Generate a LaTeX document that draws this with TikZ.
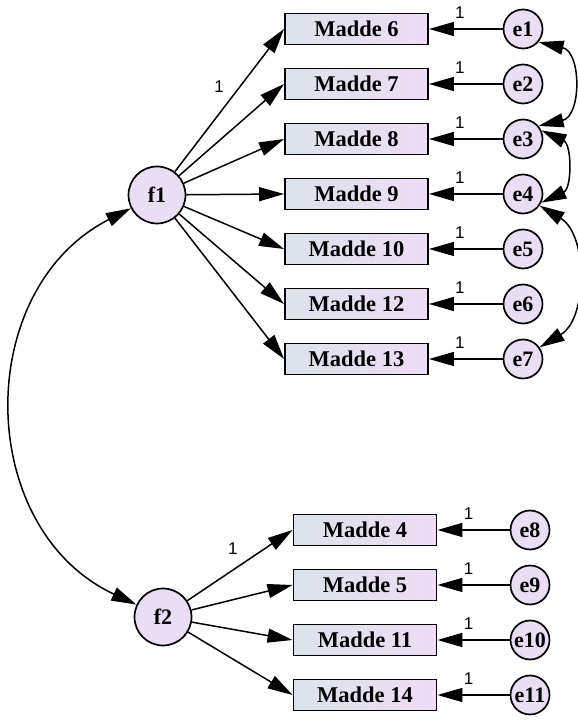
\documentclass[tikz,border=0pt]{standalone}
\usepackage{fontspec}
\setmainfont{Liberation Serif}
\newfontfamily\labfont{Liberation Sans}
\usetikzlibrary{arrows.meta}
\definecolor{boxleft}{RGB}{220,227,234}
\definecolor{boxright}{RGB}{238,221,245}
\definecolor{circfill}{RGB}{233,222,243}

\begin{document}
\begin{tikzpicture}[x=1pt, y=1pt, >={Triangle[length=25pt,width=14pt]}, line width=1.5pt,
  item/.style={draw, line width=1.9pt, rectangle, minimum width=143pt, minimum height=31pt, inner sep=0pt,
    left color=boxleft, right color=boxright, font=\fontsize{22.5}{24}\selectfont\bfseries},
  latent/.style={draw, circle, line width=1.7pt, minimum size=57pt, inner sep=0pt, fill=circfill,
    font=\fontsize{22}{24}\selectfont\bfseries},
  errv/.style={draw, circle, line width=1.7pt, minimum size=39pt, inner sep=0pt, fill=circfill,
    font=\fontsize{22}{24}\selectfont\bfseries},
  wlab/.style={font=\labfont\fontsize{17}{17}\selectfont, inner sep=1pt}]
\useasboundingbox (0,0) rectangle (578,720);
% factors
\node[latent] (f1) at (157,525) {f1};
\node[latent] (f2) at (163,103) {f2};
% items of f1
\node[item] (m6) at (356.5,691) {Madde 6};
\node[item] (m7) at (356.5,636) {Madde 7};
\node[item] (m8) at (356.5,581) {Madde 8};
\node[item] (m9) at (356.5,526) {Madde 9};
\node[item] (m10) at (356.5,471) {Madde 10};
\node[item] (m12) at (356.5,416) {Madde 12};
\node[item] (m13) at (356.5,361) {Madde 13};
% items of f2
\node[item] (m4) at (365,190) {Madde 4};
\node[item] (m5) at (365,135) {Madde 5};
\node[item] (m11) at (365,80) {Madde 11};
\node[item] (m14) at (365,25) {Madde 14};
% error terms
\node[errv] (e1) at (523,691) {e1};
\node[errv] (e2) at (523,636) {e2};
\node[errv] (e3) at (523,581) {e3};
\node[errv] (e4) at (523,526) {e4};
\node[errv] (e5) at (523,471) {e5};
\node[errv] (e6) at (523,416) {e6};
\node[errv] (e7) at (523,361) {e7};
\node[errv] (e8) at (530,190) {e8};
\node[errv] (e9) at (530,135) {e9};
\node[errv] (e10) at (530,80) {e10};
\node[errv] (e11) at (530,25) {e11};
% loadings f1
\draw[->] (f1) -- (m6.west) node[wlab, pos=0.51, above left=5pt] (w6) {1};
\draw[->] (f1) -- (m7.west);
\draw[->] (f1) -- (m8.west);
\draw[->] (f1) -- (m9.west);
\draw[->] (f1) -- (m10.west);
\draw[->] (f1) -- (m12.west);
\draw[->] (f1) -- (m13.west);
% loadings f2
\draw[->] (f2) -- (m4.west) node[wlab, pos=0.55, above left=6pt] (w4) {1};
\draw[->] (f2) -- (m5.west);
\draw[->] (f2) -- (m11.west);
\draw[->] (f2) -- (m14.west);
% error paths
\draw[->] (e1) -- (m6) node[wlab, pos=0.58, above=9pt] (u1) {1};
\draw[->] (e2) -- (m7) node[wlab, pos=0.58, above=9pt] (u2) {1};
\draw[->] (e3) -- (m8) node[wlab, pos=0.58, above=9pt] (u3) {1};
\draw[->] (e4) -- (m9) node[wlab, pos=0.58, above=9pt] (u4) {1};
\draw[->] (e5) -- (m10) node[wlab, pos=0.58, above=9pt] (u5) {1};
\draw[->] (e6) -- (m12) node[wlab, pos=0.58, above=9pt] (u6) {1};
\draw[->] (e7) -- (m13) node[wlab, pos=0.58, above=9pt] (u7) {1};
\draw[->] (e8) -- (m4) node[wlab, pos=0.57, above=9pt] (u8) {1};
\draw[->] (e9) -- (m5) node[wlab, pos=0.57, above=9pt] (u9) {1};
\draw[->] (e10) -- (m11) node[wlab, pos=0.57, above=9pt] (u10) {1};
\draw[->] (e11) -- (m14) node[wlab, pos=0.57, above=9pt] (u11) {1};
% covariances
\draw[<->] (f1) to[out=207, in=155, looseness=1.15] (f2);
\draw[<->] (e1.-40) to[out=-13, in=13, looseness=1.35] (e3.40);
\draw[<->] (e3.25) to[out=-25, in=25, looseness=1.2] (e4.-25);
\draw[<->] (e4.-35) to[out=-31, in=31, looseness=1.02] (e7.35);
\end{tikzpicture}
\end{document}
